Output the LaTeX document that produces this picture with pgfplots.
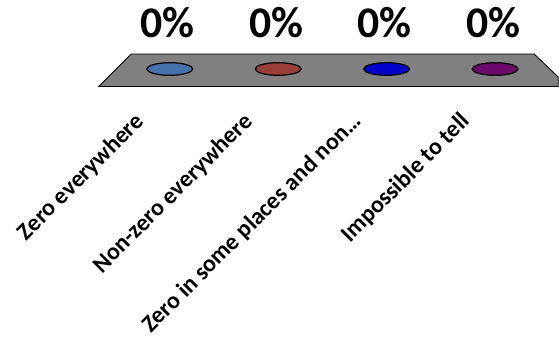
\documentclass[border=0pt]{standalone}
\usepackage{pgfplots}
\pgfplotsset{compat=1.18}
\usepackage{fontspec}
\setmainfont{Carlito}
\definecolor{c1}{HTML}{4672AC}
\definecolor{c2}{HTML}{9A3E3C}
\definecolor{c3}{HTML}{0000C8}
\definecolor{c4}{HTML}{6A0A6A}
\definecolor{floorgray}{HTML}{808080}
\begin{document}
\begin{tikzpicture}
\begin{axis}[
  scale only axis,
  width=559bp, height=118bp,
  xmin=-1.565, xmax=3.582,
  ymin=-49, ymax=69,
  axis line style={draw=none},
  clip=false,
  xtick={-0.267,0.733,1.733,2.733},
  xticklabels={Zero everywhere,Non-zero everywhere,Zero in some places and non\ldots,Impossible to tell},
  major tick length=0pt,
  ytick=\empty,
  /pgf/number format/assume math mode=true,
  xticklabel style={rotate=45, anchor=east, inner sep=0pt, font=\fontsize{24}{24}\selectfont\bfseries},
  nodes near coords={\pgfmathprintnumber{\pgfplotspointmeta}\%},
  point meta=y,
  every node near coord/.style={anchor=base, yshift=32bp, xshift=-2bp, inner sep=0pt, font=\fontsize{44}{44}\selectfont\bfseries, text=black},
]
% floor
\addplot[fill=floorgray, draw=black, line width=0.8bp, nodes near coords={}, forget plot] coordinates {(-0.654,-17.5) (3.582,-17.5) (3.582,-8) (3.361,15) (-0.355,15)} -- cycle;
\draw[black, line width=1.6bp] (axis cs:-0.654,-17.5) -- (axis cs:3.582,-17.5);
% zero-height bars
\addplot[only marks, mark=*, mark size=6.3bp, mark options={xscale=3.65, fill=c1, draw=black, line width=1.2bp}] coordinates {(0,0)};
\addplot[only marks, mark=*, mark size=6.3bp, mark options={xscale=3.65, fill=c2, draw=black, line width=1.2bp}] coordinates {(1,0)};
\addplot[only marks, mark=*, mark size=6.3bp, mark options={xscale=3.65, fill=c3, draw=black, line width=1.2bp}] coordinates {(2,0)};
\addplot[only marks, mark=*, mark size=6.3bp, mark options={xscale=3.65, fill=c4, draw=black, line width=1.2bp}] coordinates {(3,0)};
\end{axis}
\end{tikzpicture}
\end{document}
